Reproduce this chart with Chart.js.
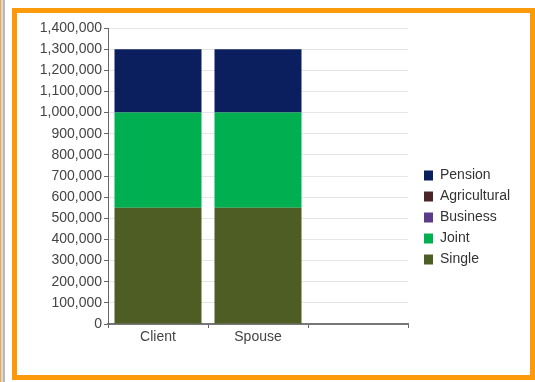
<!DOCTYPE html>
<html>
<head>
<meta charset="utf-8">
<script src="https://cdn.jsdelivr.net/npm/chart.js@4"></script>
<style>
  body { margin: 0; background: #fff; width: 535px; height: 382px; overflow: hidden; position: relative; }
  #strip { position: absolute; left: 0; top: 0; width: 2px; height: 382px; border-left: 1px solid #f5a53a; border-right: 2px solid #b8b8b8; background: #d8d8d8; }
  #frame { position: absolute; left: 12px; top: 8px; width: 513px; height: 362px; border: 5px solid #fb9b0c; background: #fff; }
  #frame canvas { display: block; }
</style>
</head>
<body>
<div id="strip"></div>
<div id="frame"><canvas id="Graph1" width="513" height="362"></canvas></div>
<script>
let categories = ["Client", "Spouse", ""];
let single = [550000, 550000, null];
let joint = [450000, 450000, null];
let business = [0, 0, null];
let agricultural = [0, 0, null];
let pension = [300000, 300000, null];
let yTicks = [0, 100000, 200000, 300000, 400000, 500000, 600000, 700000,
    800000, 900000, 1000000, 1100000, 1200000, 1300000, 1400000];

let fontFamily = "'Liberation Sans', Arial, sans-serif";

// legend sits a bit right and lower than Chart.js puts it
let legendNudge = {
    id: "legendNudge",
    beforeInit(chart) {
        let fit = chart.legend.fit;
        chart.legend.fit = function () {
            fit.call(this);
            this.width = 122;
        };
        let draw = chart.legend.draw;
        chart.legend.draw = function () {
            this.ctx.save();
            this.ctx.translate(9, 16);
            draw.call(this);
            this.ctx.restore();
        };
    }
};

new Chart("Graph1", {
    type: "bar",
    data: {
        labels: categories,
        datasets: [
            { label: "Single", data: single, backgroundColor: "#4e5d24" },
            { label: "Joint", data: joint, backgroundColor: "#00b050" },
            { label: "Business", data: business, backgroundColor: "#5b3a8a" },
            { label: "Agricultural", data: agricultural, backgroundColor: "#4a2528" },
            { label: "Pension", data: pension, backgroundColor: "#0b1f5e" }
        ]
    },
    options: {
        responsive: false,
        animation: false,
        datasets: {
            bar: { barPercentage: 0.87, categoryPercentage: 1, borderWidth: 0 }
        },
        layout: { padding: { top: 15, left: 0, right: 0, bottom: 0 } },
        plugins: {
            legend: {
                position: "right",
                reverse: true,
                labels: {
                    boxWidth: 9,
                    boxHeight: 10,
                    padding: 7,
                    color: "#333",
                    font: { family: fontFamily, size: 14 }
                }
            },
            tooltip: { enabled: false }
        },
        scales: {
            x: {
                stacked: true,
                afterFit(scale) { scale.height = 51; },
                grid: {
                    offset: true,
                    color: (c) => c.index === 3 ? "#e2e2e2" : "rgba(0,0,0,0)",
                    tickColor: "#666",
                    tickLength: 4
                },
                border: { color: "#777", width: 2 },
                ticks: {
                    padding: 1,
                    color: "#444",
                    font: { family: fontFamily, size: 14 }
                }
            },
            y: {
                stacked: true,
                min: 0,
                max: 1400000,
                afterFit(scale) { scale.width = 91; },
                afterBuildTicks(scale) { scale.ticks = yTicks.map(v => ({ value: v })); },
                grid: {
                    color: "#e6e6e6",
                    tickColor: "#666",
                    tickLength: 4
                },
                border: { color: "#666" },
                ticks: {
                    autoSkip: false,
                    padding: 2,
                    color: "#444",
                    font: { family: fontFamily, size: 14 },
                    callback: (v) => v.toLocaleString("en-US")
                }
            }
        }
    },
    plugins: [legendNudge]
});
</script>
</body>
</html>
